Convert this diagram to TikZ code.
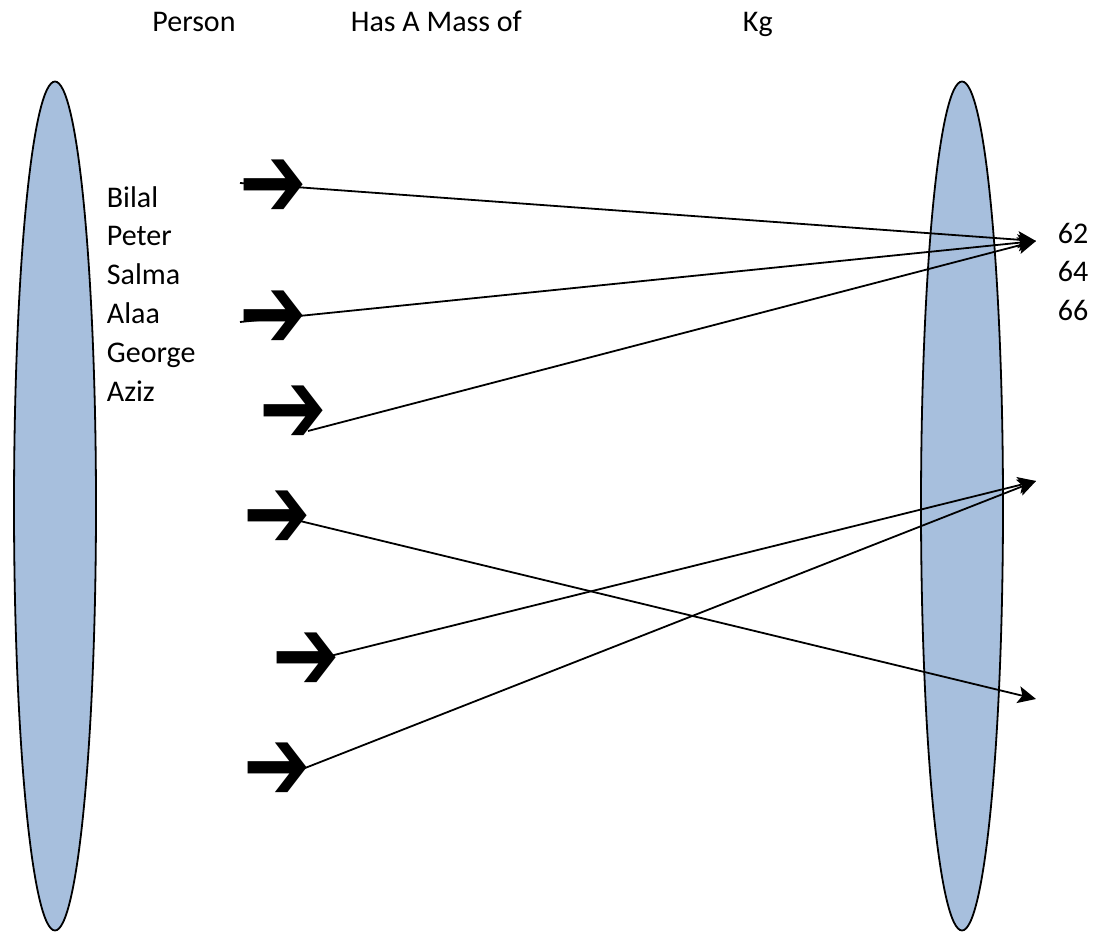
\documentclass[tikz,border=0pt]{standalone}
\usepackage{fontspec}
\setmainfont{Carlito}
\newfontfamily\glyphfont{DejaVu Sans}
\usetikzlibrary{arrows.meta,shapes.geometric}
\definecolor{setblue}{HTML}{A7BFDD}

\begin{document}
\begin{tikzpicture}[x=1pt,y=-1pt,>={Stealth[length=18pt,width=17pt,inset=4pt]},
  line width=1.8pt,
  set node/.style={ellipse,draw,line width=1.8pt,fill=setblue,minimum width=82pt,minimum height=849pt,inner sep=0pt},
  word/.style={font=\fontsize{30}{37}\selectfont,inner sep=0pt},
  block arrow/.style={font=\glyphfont\fontsize{72}{72}\selectfont,inner sep=0pt}]

  \useasboundingbox (0,0) rectangle (1109,934);

  % the two sets
  \node[set node] (persons) at (55,506) {};
  \node[set node] (masses) at (962,506) {};

  % titles
  \node[word,anchor=base] (t1) at (194,32) {Person};
  \node[word,anchor=base west] (t2) at (350,32) {Has A Mass of};
  \node[word,anchor=base west] (t3) at (742,32) {Kg};

  \foreach \n [count=\i] in {Bilal,Peter,Salma,Alaa,George,Aziz}
    \node[word,anchor=base west] (p\i) at (106,207+38.8*\i-38.8) {\n};
  \foreach \n [count=\i] in {62,64,66}
    \node[word,anchor=base west] (m\i) at (1057,243+38.5*\i-38.5) {\n};

  % ends of the lines
  \coordinate (s1) at (240,183);
  \coordinate (s2) at (240,322);
  \coordinate (s3) at (308,431);
  \coordinate (s4) at (300,521);
  \coordinate (s5) at (330,656);
  \coordinate (s6) at (300,770);
  \coordinate (e1) at (1036,241);
  \coordinate (e2) at (1036,481);
  \coordinate (e3) at (1036,699);

  \draw[->] (s1) -- (e1);
  \draw[->] (s2) -- (e1);
  \draw[->] (s3) -- (e1);
  \draw[->] (s4) -- (e3);
  \draw[->] (s5) -- (e2);
  \draw[->] (s6) -- (e2);

  % the thick arrows
  \node[block arrow] (a1) at (273,189) {\scalebox{1.12}[1.45]{➔}};
  \node[block arrow] (a2) at (273,320) {\scalebox{1.12}[1.45]{➔}};
  \node[block arrow] (a3) at (293,415) {\scalebox{1.12}[1.45]{➔}};
  \node[block arrow] (a4) at (277,520) {\scalebox{1.12}[1.45]{➔}};
  \node[block arrow] (a5) at (306,662) {\scalebox{1.12}[1.45]{➔}};
  \node[block arrow] (a6) at (277,772) {\scalebox{1.12}[1.45]{➔}};
\end{tikzpicture}
\end{document}
